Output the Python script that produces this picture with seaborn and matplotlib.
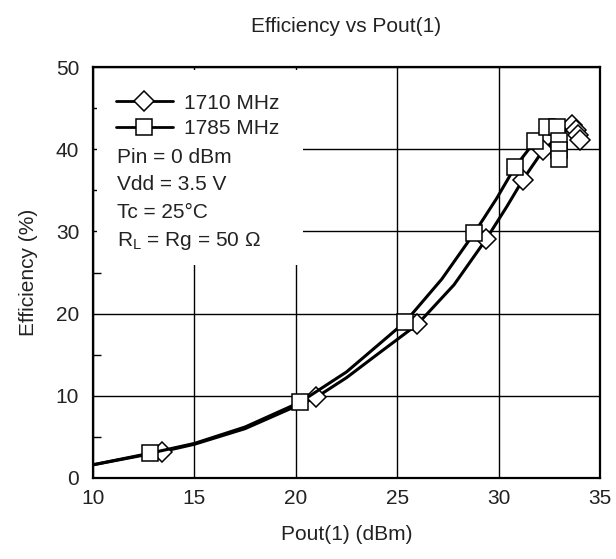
import matplotlib
matplotlib.use('Agg')
import matplotlib.pyplot as plt
import seaborn as sns
import pandas as pd
from matplotlib.patches import Rectangle
from matplotlib.lines import Line2D

# --- Data ---
# 1710 MHz curve (diamonds)
pout_1710 = [10.0, 13.4, 15.0, 17.5, 21.0, 22.5, 24.0, 26.0, 27.8, 29.4, 30.4, 31.2, 32.2, 33.6, 33.8, 33.9, 34.0]
eff_1710 = [1.6, 3.2, 4.1, 6.0, 9.8, 12.2, 15.0, 18.7, 23.5, 29.1, 33.0, 36.3, 39.9, 42.9, 42.3, 41.7, 41.1]
mark_1710 = [1, 4, 7, 9, 11, 12, 13, 14, 15, 16]

# 1785 MHz curve (squares)
pout_1785 = [10.0, 12.8, 15.0, 17.5, 20.2, 22.5, 25.4, 27.2, 28.8, 29.9, 30.8, 31.8, 32.4, 32.9, 33.0, 33.0, 33.0]
eff_1785 = [1.6, 3.0, 4.2, 6.2, 9.2, 12.9, 19.0, 24.2, 29.8, 34.0, 37.8, 41.0, 42.7, 42.7, 41.0, 39.9, 38.8]
mark_1785 = [1, 4, 6, 8, 10, 11, 12, 13, 14, 15, 16]

series_labels = ['1710 MHz', '1785 MHz']
notes = ['Pin = 0 dBm', 'Vdd = 3.5 V', 'Tc = 25°C', 'R$_\\mathrm{L}$ = Rg = 50 Ω']

FS = 15

sns.set_style('white')
plt.rcParams['font.family'] = ['Liberation Sans', 'DejaVu Sans']
plt.rcParams['mathtext.fontset'] = 'custom'
plt.rcParams['mathtext.rm'] = 'Liberation Sans'

fig = plt.figure(figsize=(6.16, 5.59), dpi=100)
ax = fig.add_axes([0.151, 0.145, 0.823, 0.735])

df_a = pd.DataFrame({'x': pout_1710, 'y': eff_1710})
df_b = pd.DataFrame({'x': pout_1785, 'y': eff_1785})

sns.lineplot(data=df_a, x='x', y='y', ax=ax, color='black', lw=2.2, sort=False, estimator=None,
             marker='D', markersize=10, markevery=mark_1710,
             markerfacecolor='white', markeredgecolor='black', markeredgewidth=1.1, zorder=3)
sns.lineplot(data=df_b, x='x', y='y', ax=ax, color='black', lw=2.2, sort=False, estimator=None,
             marker='s', markersize=12, markevery=mark_1785,
             markerfacecolor='white', markeredgecolor='black', markeredgewidth=1.1, zorder=4)

ax.set_xlim(10, 35)
ax.set_ylim(0, 50)
ax.set_xticks([10, 15, 20, 25, 30, 35])
ax.set_yticks([0, 10, 20, 30, 40, 50])
ax.set_yticks([5, 15, 25, 35, 45], minor=True)
ax.tick_params(axis='x', which='major', labelsize=FS, length=0, pad=8, labelcolor='#222222')
ax.tick_params(axis='y', which='major', labelsize=FS, length=0, pad=10, labelcolor='#222222')
ax.tick_params(axis='y', which='minor', direction='in', length=6, width=1, color='black', left=True)
ax.grid(True, which='major', color='black', lw=1)
ax.set_axisbelow(True)
for s in ax.spines.values():
    s.set_color('black')
    s.set_linewidth(1.6)

ax.set_xlabel('Pout(1) (dBm)', fontsize=FS, labelpad=12, color='#222222')
ax.set_ylabel('Efficiency (%)', fontsize=FS, labelpad=13, color='#222222')
ax.set_title('Efficiency vs Pout(1)', fontsize=FS, pad=25, color='#222222')

# white box behind the legend/notes
ax.add_patch(Rectangle((0.008, 0.518), 0.406, 0.475, transform=ax.transAxes,
                       facecolor='white', edgecolor='none', zorder=2.5))

handles = [Line2D([], [], color='black', lw=2, marker='D', markersize=10,
                  markerfacecolor='white', markeredgewidth=1.1),
           Line2D([], [], color='black', lw=2, marker='s', markersize=12,
                  markerfacecolor='white', markeredgewidth=1.1)]
leg = ax.legend(handles, series_labels, loc='upper left', bbox_to_anchor=(0.045, 0.935),
                frameon=False, fontsize=FS, handlelength=2.75, handletextpad=0.5,
                labelspacing=0.32, borderaxespad=0, borderpad=0, labelcolor='#222222')
leg.set_zorder(5)

for i, t in enumerate(notes):
    ax.text(0.047, 0.781 - i * 0.068, t, transform=ax.transAxes, fontsize=FS,
            va='center', ha='left', zorder=6, color='#222222')

fig.savefig('out.png', dpi=100)
